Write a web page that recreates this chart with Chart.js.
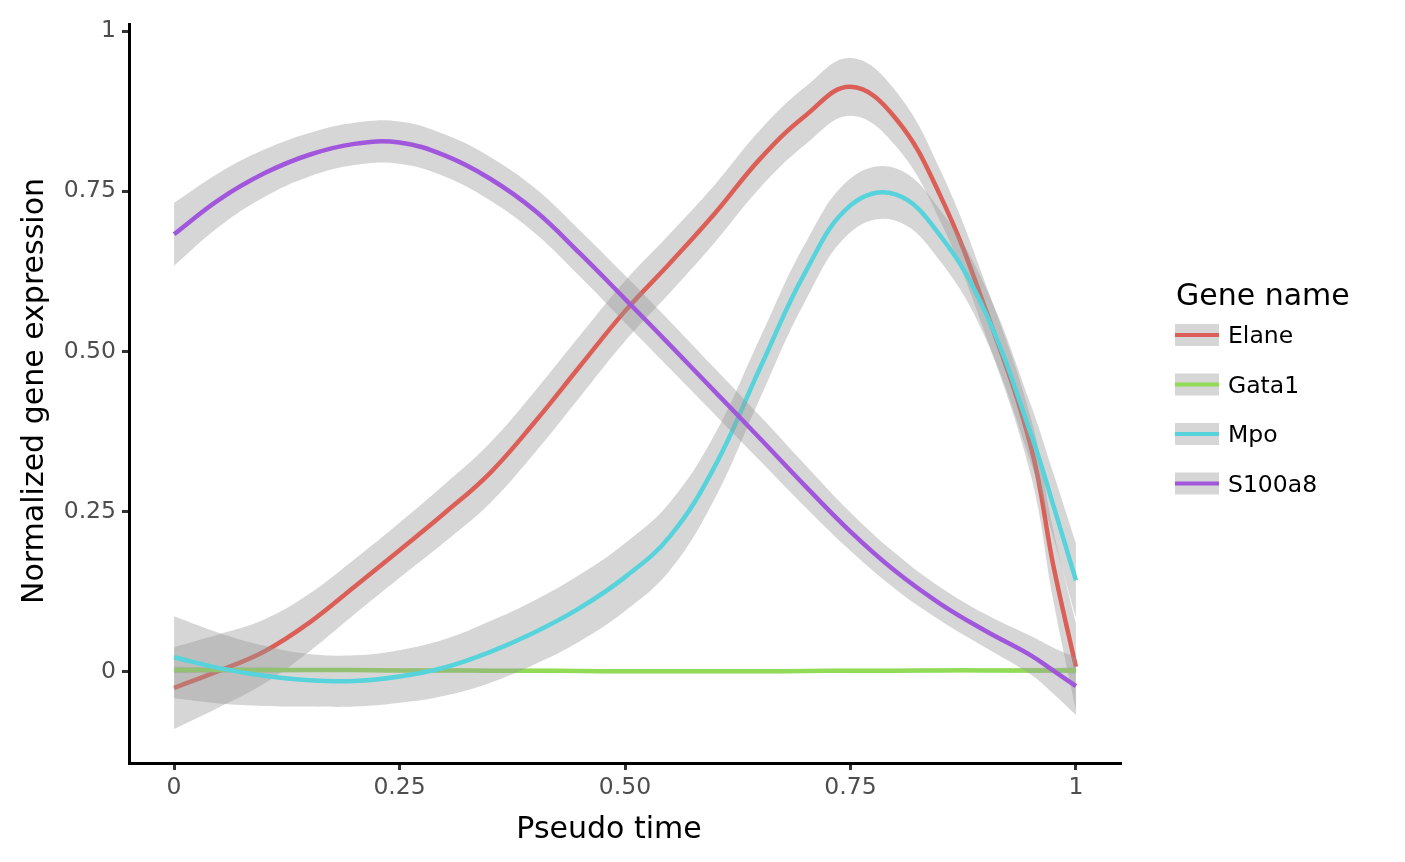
<!DOCTYPE html>
<html>
<head>
<meta charset="utf-8">
<title>Normalized gene expression along pseudo time</title>
<script src="https://cdn.jsdelivr.net/npm/chart.js@4.4.1/dist/chart.umd.min.js"></script>
<style>
  body { margin: 0; background: #ffffff; }
  #wrap { width: 1405px; height: 862px; }
</style>
</head>
<body>
<div id="wrap"><canvas id="myCanvas" width="1405" height="862"></canvas></div>
<script>
// values

var pseudoTime = [0, 0.05, 0.1, 0.15, 0.2, 0.25, 0.3, 0.35, 0.4, 0.45, 0.5, 0.55, 0.6, 0.65, 0.7, 0.75, 0.8, 0.85, 0.9, 0.95, 0.975, 1];

var geneNames = ['Elane', 'Gata1', 'Mpo', 'S100a8'];
var geneColors = ['#DB5F57', '#91DB57', '#57D3DB', '#A157DB'];

// smoothed fit
var elaneFit  = [-0.025, 0.002, 0.032, 0.077, 0.133, 0.19, 0.248, 0.31, 0.39, 0.477, 0.563, 0.638, 0.716, 0.801, 0.868, 0.913, 0.864, 0.742, 0.565, 0.352, 0.166, 0.008];
var gata1Fit  = [0.003, 0.003, 0.003, 0.003, 0.003, 0.0025, 0.0025, 0.002, 0.002, 0.0015, 0.001, 0.001, 0.001, 0.001, 0.0015, 0.002, 0.002, 0.0025, 0.0025, 0.0025, 0.0025, 0.0025];
var mpoFit    = [0.023, 0.006, -0.006, -0.013, -0.014, -0.007, 0.007, 0.031, 0.062, 0.1, 0.148, 0.212, 0.322, 0.475, 0.624, 0.728, 0.745, 0.68, 0.56, 0.372, 0.26, 0.143];
var s100a8Fit = [0.683, 0.737, 0.778, 0.807, 0.824, 0.826, 0.806, 0.77, 0.72, 0.653, 0.582, 0.51, 0.437, 0.364, 0.29, 0.219, 0.157, 0.106, 0.064, 0.026, 0.002, -0.022];

// half width of the grey confidence band
var elaneCi  = [0.064, 0.057, 0.05, 0.045, 0.043, 0.043, 0.045, 0.047, 0.048, 0.048, 0.047, 0.046, 0.045, 0.045, 0.045, 0.045, 0.043, 0.04, 0.04, 0.045, 0.055, 0.068];
var gata1Ci  = [0.005, 0.004, 0.004, 0.003, 0.003, 0.003, 0.003, 0.003, 0.003, 0.003, 0.003, 0.003, 0.003, 0.003, 0.003, 0.003, 0.003, 0.003, 0.003, 0.004, 0.004, 0.005];
var mpoCi    = [0.064, 0.055, 0.047, 0.041, 0.04, 0.041, 0.044, 0.048, 0.05, 0.052, 0.053, 0.053, 0.05, 0.047, 0.045, 0.042, 0.041, 0.04, 0.04, 0.045, 0.05, 0.058];
var s100a8Ci = [0.049, 0.042, 0.037, 0.034, 0.033, 0.033, 0.033, 0.034, 0.035, 0.036, 0.037, 0.037, 0.036, 0.035, 0.033, 0.03, 0.028, 0.026, 0.026, 0.03, 0.036, 0.045];

var xTicks = [0, 0.25, 0.5, 0.75, 1];
var xTickLabels = ['0', '0.25', '0.50', '0.75', '1'];
var yTicks = [0, 0.25, 0.5, 0.75, 1];
var yTickLabels = ['0', '0.25', '0.50', '0.75', '1'];

var fits = [elaneFit, gata1Fit, mpoFit, s100a8Fit];
var cis = [elaneCi, gata1Ci, mpoCi, s100a8Ci];

var bandFill = 'rgba(153, 153, 153, 0.4)';
var fontFamily = '"DejaVu Sans", Verdana, sans-serif';

Chart.defaults.font.family = fontFamily;

function points(vals){
	return pseudoTime.map(function(t, i){ return {x: t, y: vals[i]}; });
}

// build datasets: lower edge, upper edge (filled to lower), fitted line
// each gene: band then line, later genes drawn over earlier ones
var datasets = [];
for (var g = 0; g < geneNames.length; g++) {
	var lo = fits[g].map(function(v, i){ return v - cis[g][i]; });
	var hi = fits[g].map(function(v, i){ return v + cis[g][i]; });
	var base = (geneNames.length - g) * 3;
	datasets.push({
		label: geneNames[g] + ' lower',
		data: points(lo),
		borderWidth: 0,
		pointRadius: 0,
		fill: false,
		order: base + 2
	});
	datasets.push({
		label: geneNames[g] + ' upper',
		data: points(hi),
		borderWidth: 0,
		pointRadius: 0,
		backgroundColor: bandFill,
		fill: '-1',
		order: base + 1
	});
	datasets.push({
		label: geneNames[g],
		data: points(fits[g]),
		borderColor: geneColors[g],
		borderWidth: 4.5,
		pointRadius: 0,
		fill: false,
		order: base
	});
}

// axis titles and the legend are drawn here
var extras = {
	id: 'extras',
	afterDraw: function(chart){
		var ctx = chart.ctx;
		ctx.save();
		ctx.fillStyle = '#000000';
		ctx.font = '30px ' + fontFamily;
		ctx.textAlign = 'center';
		ctx.textBaseline = 'alphabetic';
		ctx.fillText('Pseudo time', 609, 838);

		ctx.save();
		ctx.translate(43, 391);
		ctx.rotate(-Math.PI / 2);
		ctx.fillText('Normalized gene expression', 0, 0);
		ctx.restore();

		// legend
		ctx.textAlign = 'left';
		ctx.fillText('Gene name', 1176, 305);
		ctx.font = '23.5px ' + fontFamily;
		var centers = [335, 384.5, 434, 483.5];
		for (var i = 0; i < geneNames.length; i++) {
			ctx.fillStyle = bandFill;
			ctx.fillRect(1175, centers[i] - 11, 44, 22);
			ctx.fillStyle = geneColors[i];
			ctx.fillRect(1175, centers[i] - 2, 44, 4);
			ctx.fillStyle = '#000000';
			ctx.fillText(geneNames[i], 1228, centers[i] + 8);
		}
		ctx.restore();
	}
};

var ctx = document.getElementById('myCanvas').getContext('2d');
var myChart = new Chart(ctx, {
	type: 'line',
	data: { datasets: datasets },
	options: {
		responsive: false,
		animation: false,
		devicePixelRatio: 1,
		layout: { padding: { left: 0, top: 24, right: 284, bottom: 0 } },
		elements: { line: { tension: 0.4 } },
		plugins: {
			legend: { display: false },
			tooltip: { enabled: false },
			filler: { propagate: false }
		},
		scales: {
			x: {
				type: 'linear',
				min: -0.05,
				max: 1.05,
				afterBuildTicks: function(scale){
					scale.ticks = xTicks.map(function(v){ return {value: v}; });
				},
				afterFit: function(scale){ scale.height = 99; },
				ticks: {
					color: '#4d4d4d',
					font: { size: 23.5 },
					padding: 4,
					maxRotation: 0,
					callback: function(value){
						var k = xTicks.indexOf(value);
						return k >= 0 ? xTickLabels[k] : '';
					}
				},
				grid: {
					display: true,
					drawOnChartArea: false,
					drawTicks: true,
					tickLength: 7,
					tickWidth: 3,
					tickColor: '#333333'
				},
				border: { display: true, color: '#000000', width: 3 }
			},
			y: {
				type: 'linear',
				min: -0.142,
				max: 1.011,
				afterBuildTicks: function(scale){
					scale.ticks = yTicks.map(function(v){ return {value: v}; });
				},
				afterFit: function(scale){ scale.width = 129; },
				ticks: {
					color: '#4d4d4d',
					font: { size: 23.5 },
					padding: 6,
					callback: function(value){
						var k = yTicks.indexOf(value);
						return k >= 0 ? yTickLabels[k] : '';
					}
				},
				grid: {
					display: true,
					drawOnChartArea: false,
					drawTicks: true,
					tickLength: 7,
					tickWidth: 3,
					tickColor: '#333333'
				},
				border: { display: true, color: '#000000', width: 3 }
			}
		}
	},
	plugins: [extras]
});
</script>
</body>
</html>
